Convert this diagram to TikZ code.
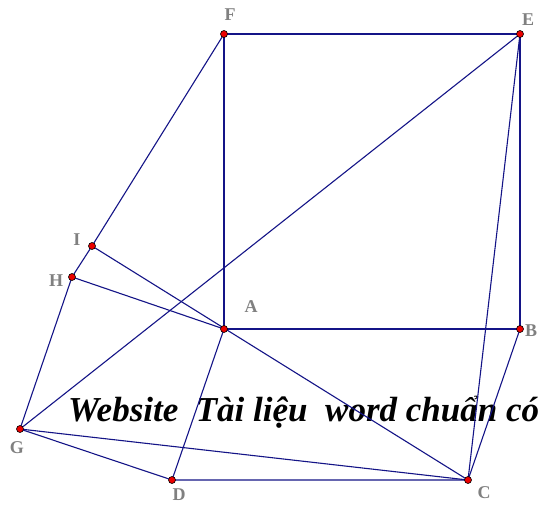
\documentclass[tikz,border=0pt]{standalone}
\usepackage{fontspec}
\setmainfont{Liberation Serif}
\definecolor{seg}{RGB}{20,20,135}
\definecolor{lab}{RGB}{128,128,128}
\definecolor{ptred}{RGB}{235,0,0}
\tikzset{
  seg/.style={draw=seg, line width=1.1pt},
  pt/.style={circle, fill=ptred, draw=black, line width=0.6pt, inner sep=0pt, minimum size=7pt},
  lbl/.style={text=lab, font=\bfseries\fontsize{18}{18}\selectfont, inner sep=0pt}
}
\begin{document}
\begin{tikzpicture}[x=1pt,y=-1pt]
\useasboundingbox (0,0) rectangle (538,504);
\clip (0,0) rectangle (538,504);
\fill[white] (0,0) rectangle (538,504);
\node[anchor=base west, inner sep=0pt, font=\bfseries\itshape\fontsize{35}{35}\selectfont] (wm) at (68,421) {Website\ \ Tài liệu\ \ word chuẩn có};
\coordinate (F) at (224,34);
\coordinate (E) at (520,34);
\coordinate (A) at (224,329);
\coordinate (B) at (520,329);
\coordinate (C) at (468,480);
\coordinate (D) at (172,480);
\coordinate (G) at (20,429);
\coordinate (H) at (72,277);
\coordinate (I) at (92,246);
\draw[seg] (F) -- (E) -- (B) -- (A) -- (F);
\draw[seg] (E) -- (G);
\draw[seg] (E) -- (C);
\draw[seg] (B) -- (C);
\draw[seg] (I) -- (C);
\draw[seg] (A) -- (D);
\draw[seg] (H) -- (A);
\draw[seg] (G) -- (C);
\draw[seg] (G) -- (D) -- (C);
\draw[seg] (G) -- (H) -- (I) -- (F);
\foreach \p in {F,E,A,B,C,D,G,H,I} \node[pt] (p\p) at (\p) {};
\node[lbl] (lF) at (230,15) {F};
\node[lbl] (lE) at (528,20) {E};
\node[lbl] (lA) at (251,307) {A};
\node[lbl] (lB) at (531,331) {B};
\node[lbl] (lC) at (484,493) {C};
\node[lbl] (lD) at (179,495) {D};
\node[lbl] (lG) at (17,448) {G};
\node[lbl] (lH) at (56,281) {H};
\node[lbl] (lI) at (77,240) {I};
\end{tikzpicture}
\end{document}
